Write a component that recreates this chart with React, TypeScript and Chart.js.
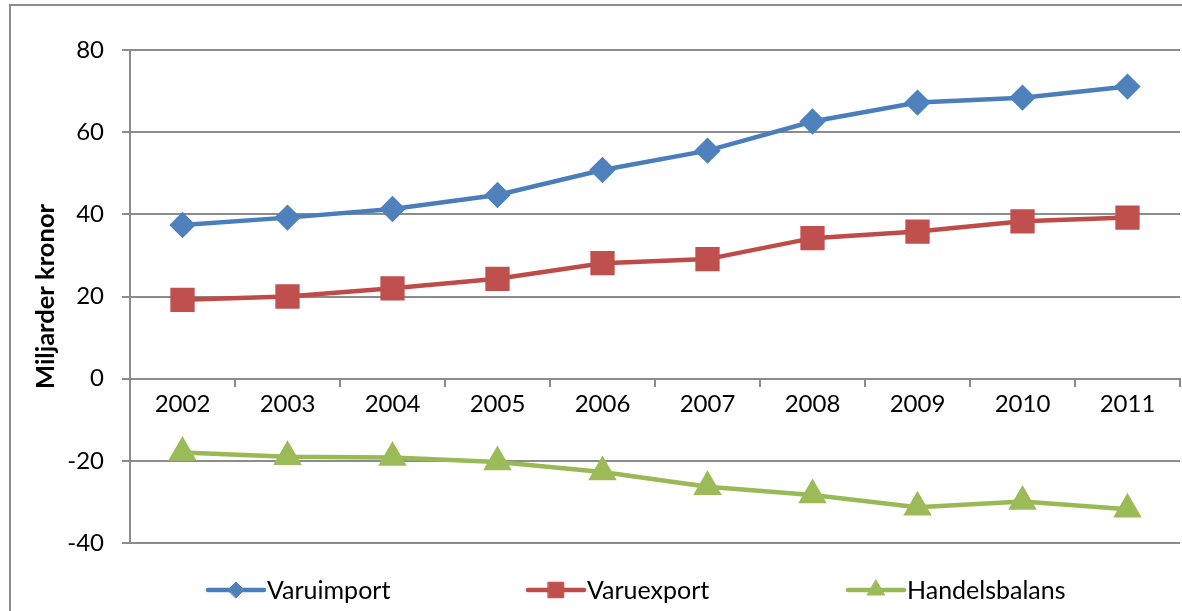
import React, { useEffect, useRef } from 'react';
import { Chart, registerables } from 'chart.js';
import { drawPoint } from 'chart.js/helpers';

Chart.register(...registerables);

const years = ['2002', '2003', '2004', '2005', '2006', '2007', '2008', '2009', '2010', '2011'];
const varuimport = [37.4, 39.2, 41.3, 44.7, 50.8, 55.5, 62.6, 67.2, 68.4, 71.1];
const varuexport = [19.2, 20.0, 22.0, 24.3, 28.1, 29.1, 34.2, 35.8, 38.3, 39.2];
const handelsbalans = [-18.0, -19.0, -19.2, -20.3, -22.7, -26.3, -28.3, -31.3, -29.9, -31.8];
const seriesNames = ['Varuimport', 'Varuexport', 'Handelsbalans'];
const yTitle = 'Miljarder kronor';
const yMin = -40;
const yMax = 80;
const yStep = 20;

const FONT = 'Lato';
const GRID = '#8c8c8c';

const LEGEND_OFFSET = 78;
const LEGEND_SLOT = 320;
const LEGEND_DY = 47;

const legendPlugin = {
  id: 'excelLegend',
  afterDraw(chart: any) {
    const { ctx, chartArea } = chart;
    ctx.save();
    chart.data.datasets.forEach((ds: any, i: number) => {
      const x0 = chartArea.left + LEGEND_OFFSET + i * LEGEND_SLOT;
      const y = chartArea.bottom + LEGEND_DY;
      ctx.strokeStyle = ds.borderColor;
      ctx.lineWidth = 4.5;
      ctx.lineCap = 'round';
      ctx.beginPath();
      ctx.moveTo(x0, y);
      ctx.lineTo(x0 + 56, y);
      ctx.stroke();
      ctx.fillStyle = ds.pointBackgroundColor;
      ctx.strokeStyle = ds.pointBorderColor;
      ctx.lineWidth = 1;
      drawPoint(ctx, { pointStyle: ds.pointStyle, radius: ds.legendRadius, borderWidth: 1, rotation: 0 } as any, x0 + 28, y);
      ctx.fillStyle = '#000';
      ctx.font = `25px ${FONT}`;
      ctx.textBaseline = 'middle';
      ctx.textAlign = 'left';
      ctx.fillText(ds.label, x0 + 59, y + 1);
    });
    ctx.restore();
  },
};

export default function App() {
  const ref = useRef<HTMLCanvasElement>(null);
  useEffect(() => {
    const chart = new Chart(ref.current as HTMLCanvasElement, {
      type: 'line',
      data: {
        labels: years,
        datasets: [
          {
            label: seriesNames[0],
            data: varuimport,
            borderColor: '#4A7EBB',
            backgroundColor: '#4F81BD',
            pointBackgroundColor: '#4F81BD',
            pointBorderColor: '#4F81BD',
            pointStyle: 'rectRot',
            pointRadius: 10,
            legendRadius: 8,
            borderWidth: 4.5,
          } as any,
          {
            label: seriesNames[1],
            data: varuexport,
            borderColor: '#BE4B48',
            backgroundColor: '#C0504D',
            pointBackgroundColor: '#C0504D',
            pointBorderColor: '#C0504D',
            pointStyle: 'rect',
            pointRadius: 14,
            legendRadius: 11,
            borderWidth: 4.5,
          } as any,
          {
            label: seriesNames[2],
            data: handelsbalans,
            borderColor: '#98B954',
            backgroundColor: '#9BBB59',
            pointBackgroundColor: '#9BBB59',
            pointBorderColor: '#9BBB59',
            pointStyle: 'triangle',
            pointRadius: 12,
            legendRadius: 10,
            borderWidth: 4.5,
          } as any,
        ],
      },
      options: {
        animation: false,
        responsive: false,
        devicePixelRatio: 1,
        layout: { autoPadding: false, padding: { top: 50, right: 2, bottom: 68, left: 0 } },
        elements: { line: { tension: 0 }, point: { borderWidth: 1, hoverRadius: 10 } },
        plugins: {
          legend: { display: false },
          tooltip: { enabled: false },
          title: { display: false },
        },
        scales: {
          x: {
            type: 'category',
            position: { y: 0 } as any,
            offset: true,
            afterFit: (scale: any) => {
              scale.paddingLeft = 0;
              scale.paddingRight = 0;
            },
            grid: {
              drawOnChartArea: false,
              offset: true,
              drawTicks: true,
              tickLength: 7,
              color: GRID,
              lineWidth: 2,
            },
            border: { display: true, color: GRID, width: 2 },
            ticks: {
              color: '#000',
              font: { family: FONT, size: 24 },
              padding: 4,
              maxRotation: 0,
              autoSkip: false,
            },
          },
          y: {
            min: yMin,
            max: yMax,
            afterFit: (scale: any) => {
              scale.width = 130;
            },
            ticks: {
              stepSize: yStep,
              color: '#000',
              font: { family: FONT, size: 24 },
              padding: 18,
            },
            grid: { color: GRID, lineWidth: 2, tickLength: 8 },
            border: { display: true, color: GRID, width: 2 },
            title: {
              display: true,
              text: yTitle,
              color: '#000',
              font: { family: FONT, size: 25.5, weight: 'bold' },
              padding: { top: 30, bottom: 0 },
            },
          },
        },
      },
      plugins: [legendPlugin],
    });
    return () => chart.destroy();
  }, []);

  return (
    <div style={{ position: 'fixed', left: 0, top: 0, width: 1182, height: 611, overflow: 'hidden', background: '#fff' }}>
      <div
        style={{
          position: 'absolute',
          left: 9,
          top: 4,
          width: 1300,
          height: 800,
          borderLeft: '2px solid #8c8c8c',
          borderTop: '2px solid #8c8c8c',
        }}
      />
      <canvas ref={ref} width={1182} height={611} style={{ position: 'absolute', left: 0, top: 0, width: 1182, height: 611 }} />
    </div>
  );
}
